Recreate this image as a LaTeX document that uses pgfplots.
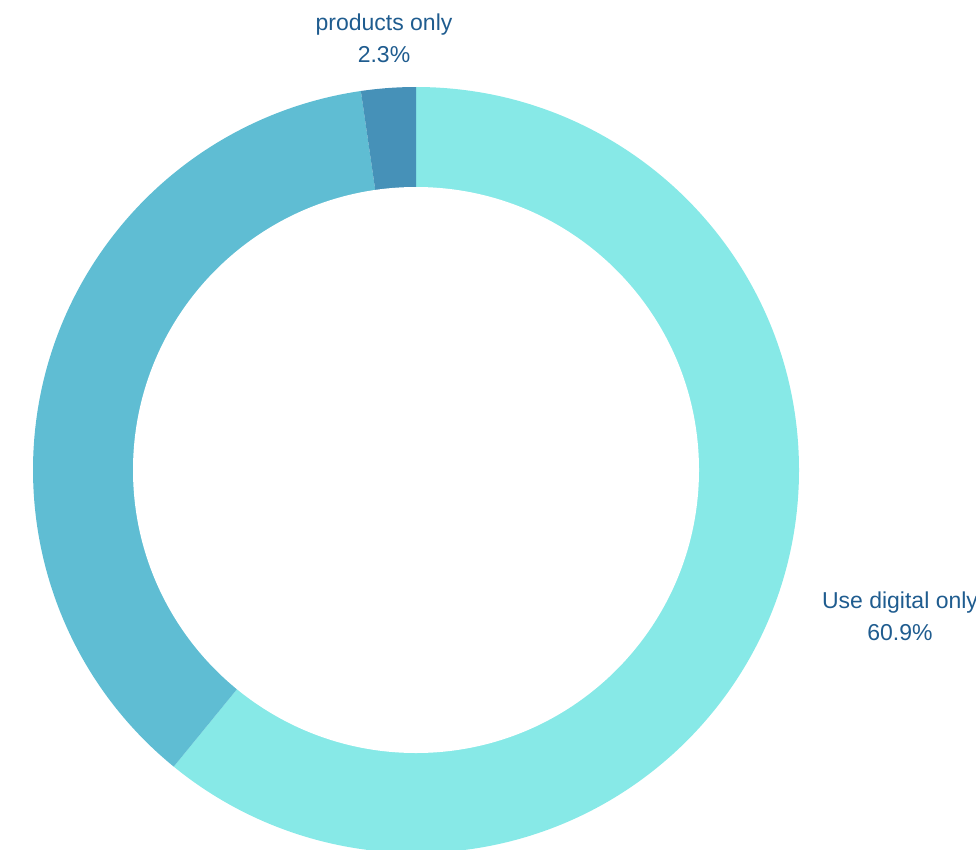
\documentclass[border=0pt]{standalone}
\usepackage{pgfplots}
\usepackage{pgfplotstable}
\pgfplotsset{compat=1.18}
\usepackage{fontspec}
\setmainfont{Liberation Sans}
\definecolor{cA}{HTML}{87E9E7}
\definecolor{cB}{HTML}{5FBDD3}
\definecolor{cC}{HTML}{4691B8}
\definecolor{txt}{HTML}{1F5C8F}
\pgfplotstableread{
label value
digital 60.9
both 36.8
products 2.3
}\datatable
\begin{document}
\begin{tikzpicture}
\pgfplotstablegetelem{0}{value}\of\datatable \let\va\pgfplotsretval
\pgfplotstablegetelem{1}{value}\of\datatable \let\vb\pgfplotsretval
\pgfplotstablegetelem{2}{value}\of\datatable \let\vc\pgfplotsretval
\pgfmathsetmacro\aA{90}
\pgfmathsetmacro\aB{90-3.6*\va}
\pgfmathsetmacro\aC{\aB-3.6*\vb}
\pgfmathsetmacro\aD{\aC-3.6*\vc}
\begin{axis}[
  width=976pt, height=850pt, scale only axis,
  xmin=0, xmax=976, ymin=0, ymax=850, y dir=reverse,
  axis lines=none, clip=true, clip mode=global,
]
\fill[cA] (axis cs:416,470) -- ++(\aA:383pt) arc[start angle=\aA, end angle=\aB, radius=383pt] -- cycle;
\fill[cB] (axis cs:416,470) -- ++(\aB:383pt) arc[start angle=\aB, end angle=\aC, radius=383pt] -- cycle;
\fill[cC] (axis cs:416,470) -- ++(\aC:383pt) arc[start angle=\aC, end angle=\aD, radius=383pt] -- cycle;
\fill[white] (axis cs:416,470) circle[radius=283pt];
\node[txt, align=center, font=\fontsize{23}{32}\selectfont] at (axis cs:384,38) {products only\\2.3\%};
\node[txt, align=center, font=\fontsize{23}{32}\selectfont] at (axis cs:900,616) {Use digital only\\60.9\%};
\end{axis}
\pgfresetboundingbox
\useasboundingbox (current axis.south west) rectangle (current axis.north east);
\end{tikzpicture}
\end{document}
